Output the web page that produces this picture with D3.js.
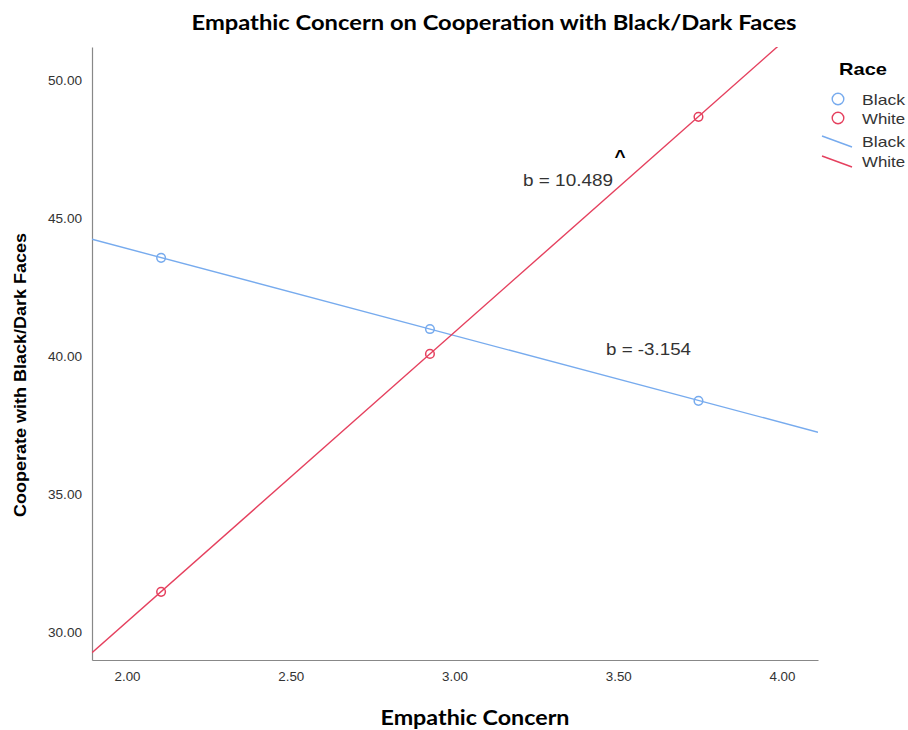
<!DOCTYPE html>
<html>
<head>
<meta charset="utf-8">
<script src="https://cdn.jsdelivr.net/npm/d3@7"></script>
<style>
  body { margin: 0; background: #fff; }
  svg { display: block; }
</style>
</head>
<body>
<svg id="chart" width="908" height="730"></svg>
<script>
// data
const races = ["Black", "White"]
const empathyLevels = [2.104, 2.925, 3.745]   // -1 SD, mean, +1 SD
const blackValues = [43.59, 41.01, 38.41]
const whiteValues = [31.49, 40.11, 48.70]
const slopes = [-3.154, 10.489]
const xTicks = [2.0, 2.5, 3.0, 3.5, 4.0]
const yTicks = [30, 35, 40, 45, 50]

const colors = ["#77abee", "#e5405e"]
const sans = "Liberation Sans, Arial, sans-serif"

const svg = d3.select("#chart")
const margin = {left: 92, right: 90, top: 47, bottom: 70}
const width = +svg.attr("width")
const height = +svg.attr("height")

const x = d3.scaleLinear().domain([1.893, 4.11]).range([margin.left, width - margin.right])
const y = d3.scaleLinear().domain([29.02, 51.23]).range([height - margin.bottom, margin.top])

svg.append("defs").append("clipPath").attr("id", "plot")
    .append("rect")
    .attr("x", x.range()[0]).attr("y", y.range()[1])
    .attr("width", x.range()[1] - x.range()[0])
    .attr("height", y.range()[0] - y.range()[1])

// axes
const xAxis = svg.append("g")
    .attr("transform", `translate(0,${y.range()[0]})`)
    .call(d3.axisBottom(x).tickValues(xTicks).tickFormat(d3.format(".2f")).tickSize(0).tickPadding(12))
const yAxis = svg.append("g")
    .attr("transform", `translate(${x.range()[0]},0)`)
    .call(d3.axisLeft(y).tickValues(yTicks).tickFormat(d3.format(".2f")).tickSize(0).tickPadding(10))

for (const ax of [xAxis, yAxis]) {
    ax.select(".domain").attr("stroke", "#888").attr("stroke-width", 1.2)
    ax.selectAll("text")
        .attr("font-family", sans)
        .attr("font-size", 12.5)
        .attr("fill", "#333")
        .attr("lengthAdjust", "spacingAndGlyphs")
}
xAxis.selectAll("text").attr("textLength", 26)
yAxis.selectAll("text").attr("textLength", 34)

// fit lines
const series = [blackValues, whiteValues]
const lines = svg.append("g").attr("clip-path", "url(#plot)")
series.forEach((vals, i) => {
    const mx = empathyLevels[1], my = vals[1]
    const ends = x.domain().map(d => [d, my + slopes[i] * (d - mx)])
    lines.append("path")
        .datum(ends)
        .attr("fill", "none")
        .attr("stroke", colors[i])
        .attr("stroke-width", 1.4)
        .attr("d", d3.line().x(d => x(d[0])).y(d => y(d[1])))
})

// points
series.forEach((vals, i) => {
    svg.append("g").selectAll("circle")
        .data(vals)
        .enter().append("circle")
        .attr("cx", (d, j) => x(empathyLevels[j]))
        .attr("cy", d => y(d))
        .attr("r", 4.3)
        .attr("fill", "none")
        .attr("stroke", colors[i])
        .attr("stroke-width", 1.5)
})

// slope annotations
svg.append("text").attr("x", 523).attr("y", 186)
    .attr("font-family", sans).attr("font-size", 16.5).attr("fill", "#333")
    .attr("textLength", 90).attr("lengthAdjust", "spacingAndGlyphs")
    .text("b = " + slopes[1].toFixed(3))
svg.append("text").attr("x", 606).attr("y", 355)
    .attr("font-family", sans).attr("font-size", 16.5).attr("fill", "#333")
    .attr("textLength", 85).attr("lengthAdjust", "spacingAndGlyphs")
    .text("b = " + slopes[0].toFixed(3))
svg.append("text").attr("x", 620).attr("y", 163).attr("text-anchor", "middle")
    .attr("font-family", sans).attr("font-size", 19).attr("font-weight", "bold")
    .text("^")

// titles
svg.append("text").attr("x", 494).attr("y", 30).attr("text-anchor", "middle")
    .attr("font-family", "Lato, sans-serif").attr("font-weight", "bold").attr("font-size", 21)
    .attr("textLength", 605).attr("lengthAdjust", "spacingAndGlyphs")
    .text("Empathic Concern on Cooperation with Black/Dark Faces")
svg.append("text").attr("x", 475).attr("y", 725).attr("text-anchor", "middle")
    .attr("font-family", "Lato, sans-serif").attr("font-weight", "bold").attr("font-size", 21)
    .attr("textLength", 189).attr("lengthAdjust", "spacingAndGlyphs")
    .text("Empathic Concern")
svg.append("text")
    .attr("transform", "translate(26,375) rotate(-90)")
    .attr("text-anchor", "middle")
    .attr("font-family", sans).attr("font-size", 16)
    .attr("font-weight", "bold")
    .attr("textLength", 284).attr("lengthAdjust", "spacingAndGlyphs")
    .text("Cooperate with Black/Dark Faces")

// legend
const legend = svg.append("g")
legend.append("text").attr("x", 839).attr("y", 75)
    .attr("font-family", sans).attr("font-weight", "bold").attr("font-size", 17)
    .attr("textLength", 48).attr("lengthAdjust", "spacingAndGlyphs")
    .text("Race")
races.forEach((r, i) => {
    legend.append("circle").attr("cx", 838).attr("cy", 99 + i * 19).attr("r", 5.8)
        .attr("fill", "none").attr("stroke", colors[i]).attr("stroke-width", 1.4)
    legend.append("text").attr("x", 862).attr("y", 105 + i * 19)
        .attr("font-family", sans).attr("font-size", 15).attr("fill", "#333")
        .attr("textLength", 43).attr("lengthAdjust", "spacingAndGlyphs")
        .text(r)
    legend.append("line").attr("x1", 822).attr("y1", 136 + i * 20).attr("x2", 852).attr("y2", 147 + i * 20)
        .attr("stroke", colors[i]).attr("stroke-width", 1.4)
    legend.append("text").attr("x", 862).attr("y", 147 + i * 20)
        .attr("font-family", sans).attr("font-size", 15).attr("fill", "#333")
        .attr("textLength", 43).attr("lengthAdjust", "spacingAndGlyphs")
        .text(r)
})
</script>
</body>
</html>
